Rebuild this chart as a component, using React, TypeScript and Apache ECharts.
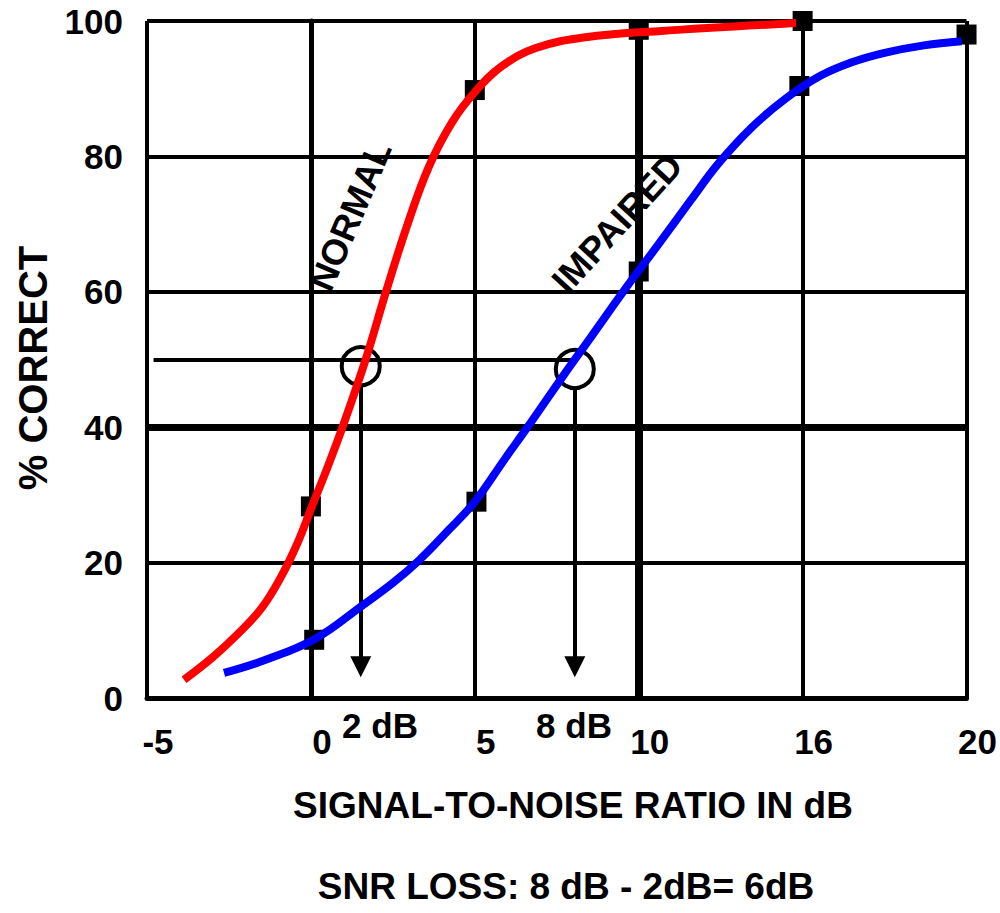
import React, { useEffect, useRef } from "react";
import * as echarts from "echarts";

const xTickLabels = ["-5", "0", "5", "10", "16", "20"];

const normalCurve: number[][] = [
  [-3.87, 2.7], [-3.0, 6.0], [-2.2, 9.6], [-1.5, 13.3], [-0.9, 18], [-0.4, 23],
  [0.03, 28.3], [0.5, 34], [1.0, 40.5], [1.67, 50], [2.29, 60], [2.95, 70],
  [3.6, 78.5], [4.3, 85], [5.0, 89.5], [5.82, 93.3], [6.86, 96], [8.38, 97.6],
  [10.6, 98.5], [14.8, 99.7],
];

const impairedCurve: number[][] = [
  [-2.65, 3.7], [-1.4, 5.6], [0.15, 8.8], [1.55, 13.6], [2.5, 17], [3.29, 20.3],
  [4.2, 24.8], [5.0, 29], [5.9, 35.2], [6.65, 40.3], [7.77, 48.1], [8.57, 53.5],
  [9.6, 60.5], [10.6, 67], [11.6, 73.6], [12.44, 79], [13.45, 84.3], [14.5, 88.6],
  [15.5, 91.8], [16.5, 93.9], [17.5, 95.3], [18.7, 96.4], [19.85, 97],
];

const normalPoints: number[][] = [[0, 28.3], [5, 89.8], [10, 98.7], [15, 100]];
const impairedPoints: number[][] = [[0.1, 8.6], [5.05, 29], [10, 63], [14.9, 90.4], [20, 98]];

const thresholdCircles: number[][] = [[1.52, 49], [8.05, 48.6]];
const thresholdValues = ["2 dB", "8 dB"];

const FONT = "'Liberation Sans', Arial, sans-serif";

export default function App() {
  const ref = useRef<HTMLDivElement>(null);
  useEffect(() => {
    if (!ref.current) return;
    const chart = echarts.init(ref.current, undefined, { renderer: "svg" });
    const black = "#000";
    const textStyle = (text: string, fontSize: number) => ({
      text,
      fontFamily: FONT,
      fontWeight: "bold",
      fontSize,
      fill: black,
      align: "center",
      verticalAlign: "middle",
    });
    chart.setOption({
      animation: false,
      backgroundColor: "#fff",
      grid: { left: 147, top: 21, width: 821, height: 677 },
      xAxis: {
        type: "value",
        min: -5,
        max: 20,
        interval: 5,
        axisLine: { show: true, lineStyle: { color: black, width: 5 } },
        axisTick: { show: false },
        splitLine: { show: true, lineStyle: { color: black, width: 4 } },
        axisLabel: {
          color: black,
          fontFamily: FONT,
          fontWeight: "bold",
          fontSize: 35,
          margin: 26,
          padding: [0, 0, 0, 22],
          formatter: (v: number) => xTickLabels[Math.round((v + 5) / 5)] ?? "",
        },
      },
      yAxis: {
        type: "value",
        min: 0,
        max: 100,
        interval: 20,
        axisLine: { show: true, lineStyle: { color: black, width: 5 } },
        axisTick: { show: false },
        splitLine: { show: true, lineStyle: { color: black, width: 4 } },
        axisLabel: {
          color: black,
          fontFamily: FONT,
          fontWeight: "bold",
          fontSize: 35,
          margin: 24,
          padding: [8, 0, 0, 0],
        },
      },
      series: [
        {
          type: "scatter",
          name: "points",
          z: 2,
          symbol: "rect",
          symbolSize: 20,
          itemStyle: { color: black, opacity: 1 },
          data: [...normalPoints, ...impairedPoints],
          silent: true,
          markLine: {
            silent: true,
            symbol: "none",
            label: { show: false },
            emphasis: { disabled: true },
            data: [
              { xAxis: 10, lineStyle: { color: black, width: 8, type: "solid" } },
              { yAxis: 40, lineStyle: { color: black, width: 7, type: "solid" } },
              [
                { coord: [-4.8, 50], lineStyle: { color: black, width: 4, type: "solid" } },
                { coord: [thresholdCircles[1][0], 50] },
              ],
            ],
          },
        },
        {
          type: "scatter",
          name: "thresholds",
          z: 3,
          symbol: "circle",
          symbolSize: 38,
          itemStyle: { color: "#fff", borderColor: black, borderWidth: 4, opacity: 1 },
          data: thresholdCircles,
          silent: true,
          markLine: {
            silent: true,
            symbol: ["none", "triangle"],
            symbolSize: 21,
            label: { show: false },
            emphasis: { disabled: true },
            lineStyle: { color: black, width: 4, type: "solid", opacity: 1 },
            itemStyle: { color: black },
            data: thresholdCircles.map((c) => [
              { coord: [c[0], 46] },
              { coord: [c[0], 4.6] },
            ]),
          },
        },
        {
          type: "line",
          name: "NORMAL",
          z: 5,
          data: normalCurve,
          smooth: 0.4,
          showSymbol: false,
          symbol: "none",
          lineStyle: { color: "#ff0000", width: 8, cap: "butt" },
          silent: true,
        },
        {
          type: "line",
          name: "IMPAIRED",
          z: 5,
          data: impairedCurve,
          smooth: 0.4,
          showSymbol: false,
          symbol: "none",
          lineStyle: { color: "#0000ff", width: 8, cap: "butt" },
          silent: true,
        },
      ],
      graphic: [
        { type: "text", x: 573, y: 805, style: textStyle("SIGNAL-TO-NOISE RATIO IN dB", 37) },
        { type: "text", x: 566, y: 886, style: textStyle("SNR LOSS: 8 dB - 2dB= 6dB", 37) },
        { type: "text", x: 33, y: 368, rotation: Math.PI / 2, style: textStyle("% CORRECT", 40) },
        { type: "text", x: 380, y: 725, style: textStyle(thresholdValues[0], 35) },
        { type: "text", x: 574, y: 725, style: textStyle(thresholdValues[1], 35) },
        {
          type: "text",
          x: 350,
          y: 216,
          rotation: (67 * Math.PI) / 180,
          z: 10,
          style: textStyle("NORMAL", 36),
        },
        {
          type: "text",
          x: 617,
          y: 223,
          rotation: (47.5 * Math.PI) / 180,
          z: 10,
          style: textStyle("IMPAIRED", 36),
        },
      ],
    });
    return () => chart.dispose();
  }, []);
  return (
    <div
      ref={ref}
      style={{ position: "fixed", left: 0, top: 0, width: 1000, height: 913, background: "#fff" }}
    />
  );
}
